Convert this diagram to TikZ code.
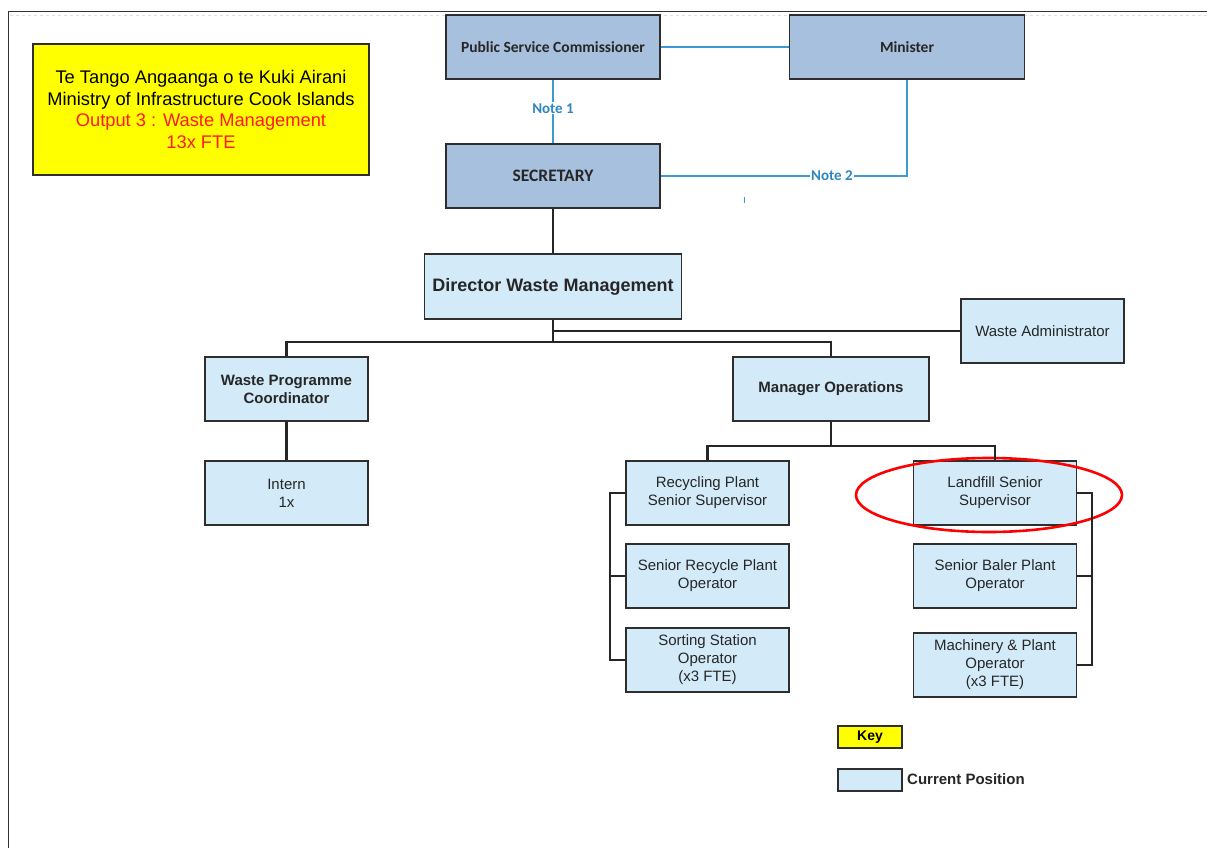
\documentclass[tikz,border=0pt]{standalone}
\usepackage{fontspec}
\setmainfont{Liberation Sans}
\newfontfamily\calfont{Carlito}
\usetikzlibrary{shapes.geometric}
\definecolor{darkbox}{HTML}{A7C0DE}
\definecolor{lightbox}{HTML}{D3EBF8}
\definecolor{edgecol}{HTML}{2E2E2E}
\definecolor{notecol}{HTML}{3C9AD2}
\definecolor{notetext}{HTML}{2E86C1}
\definecolor{titleyellow}{HTML}{FFFF00}
\definecolor{titlered}{HTML}{FF1A1A}
\begin{document}
\begin{tikzpicture}[x=1pt,y=-1pt,
  box/.style={draw=edgecol, line width=1.6pt, fill=lightbox, align=center, inner sep=2pt,
    font=\fontsize{15}{18}\selectfont, text=black!85},
  topbox/.style={draw=edgecol, line width=1.6pt, fill=darkbox, align=center, inner sep=2pt,
    font=\calfont\bfseries\fontsize{15.5}{17}\selectfont, text=black!85},
  wide/.style={minimum width=163pt, minimum height=64pt},
  conn/.style={draw=black!85, line width=2.2pt},
  note/.style={draw=notecol, line width=1.4pt},
  notelbl/.style={font=\calfont\bfseries\fontsize{15}{16}\selectfont, text=notetext, inner sep=1pt}]
\useasboundingbox (0,0) rectangle (1207,848);
\fill[white] (0,0) rectangle (1207,848);
% page frame
\draw[gray!25, dash pattern=on 3pt off 3pt, line width=0.8pt] (10,15.5) -- (1207,15.5);
\draw[black!80, line width=1pt] (8,848) -- (8,12) -- (1207,12);

% title
\node[draw=edgecol, line width=1.6pt, fill=titleyellow, minimum width=336pt, minimum height=131pt,
  align=center, font=\fontsize{18.3}{21.5}\selectfont] (title) at (201,109.5)
  {Te Tango Angaanga o te Kuki Airani\\Ministry of Infrastructure Cook Islands\\
   \textcolor{titlered}{Output 3 : Waste Management}\\\textcolor{titlered}{13x FTE}};

% top level
\node[topbox, minimum width=214pt, minimum height=64pt] (psc) at (553,47) {Public Service Commissioner};
\node[topbox, minimum width=235pt, minimum height=64pt] (min) at (907,47) {Minister};
\node[topbox, minimum width=214pt, minimum height=64pt, font=\calfont\bfseries\fontsize{17.5}{19}\selectfont] (sec) at (553,176) {SECRETARY};

% director level
\node[box, minimum width=257pt, minimum height=65pt, font=\bfseries\fontsize{18}{21}\selectfont] (dir) at (553,286.5) {Director Waste Management};
\node[box, wide] (wadm) at (1042.5,331) {Waste Administrator};
\node[box, wide, font=\bfseries\fontsize{15}{18}\selectfont] (wpc) at (286.5,389) {Waste Programme\\Coordinator};
\node[box, minimum width=196pt, minimum height=64pt, font=\bfseries\fontsize{15}{18}\selectfont] (mgr) at (831,389) {Manager Operations};
\node[box, wide] (intern) at (286.5,493) {Intern\\1x};

% operations
\node[box, wide] (rec) at (707.5,493) {Recycling Plant\\Senior Supervisor};
\node[box, wide] (srop) at (707.5,576) {Senior Recycle Plant\\Operator};
\node[box, wide] (sort) at (707.5,660) {Sorting Station\\Operator\\(x3 FTE)};
\node[box, wide] (land) at (995,493) {Landfill Senior\\Supervisor};
\node[box, wide] (baler) at (995,576) {Senior Baler Plant\\Operator};
\node[box, wide] (mach) at (995,665) {Machinery \& Plant\\Operator\\(x3 FTE)};

% highlight
\node[draw=red, line width=2.6pt, ellipse, minimum width=266pt, minimum height=74pt, inner sep=0pt] (hl) at (989,495) {};

% key
\node[draw=edgecol, line width=1.6pt, fill=titleyellow, minimum width=64pt, minimum height=22pt,
  font=\bfseries\fontsize{14}{16}\selectfont, inner sep=0pt] (key) at (870,737) {Key};
\node[draw=edgecol, line width=1.6pt, fill=lightbox, minimum width=64pt, minimum height=22pt, inner sep=0pt] (keycur) at (870,780) {};
\node[anchor=west, font=\bfseries\fontsize{15}{17}\selectfont, text=black!85, inner sep=0pt] (keytxt) at (907,779) {Current Position};

% blue note connectors
\draw[note] (psc.east) -- (min.west);
\draw[note] (psc.south) -- node[notelbl, fill=white, pos=0.45] (n1) {Note 1} (sec.north);
\draw[note] (sec.east) -- node[notelbl, fill=white, pos=0.695] (n2) {Note 2} (sec.east -| min.south) -- (min.south);
\coordinate (tickA) at (744,197);
\coordinate (tickB) at (744,203);
\draw[notecol, line width=1pt] (tickA) -- (tickB);

% black connectors
\coordinate (bus1) at (553,342);
\coordinate (bus2) at (831,446);
\draw[conn] (sec.south) -- (dir.north);
\draw[conn] (dir.south) -- (bus1);
\draw[conn] (wpc.north) |- (bus1) -| (mgr.north);
\draw[conn] (dir.south |- wadm.west) -- (wadm.west);
\draw[conn] (wpc.south) -- (intern.north);
\draw[conn] (mgr.south) -- (bus2);
\draw[conn] (rec.north) |- (bus2) -| (land.north);
\draw[conn] (rec.west) -- ++(-15,0) |- (sort.west);
\draw[conn] (srop.west) -- ++(-15,0);
\draw[conn] (land.east) -- ++(15,0) |- (mach.east);
\draw[conn] (baler.east) -- ++(15,0);
\end{tikzpicture}
\end{document}
